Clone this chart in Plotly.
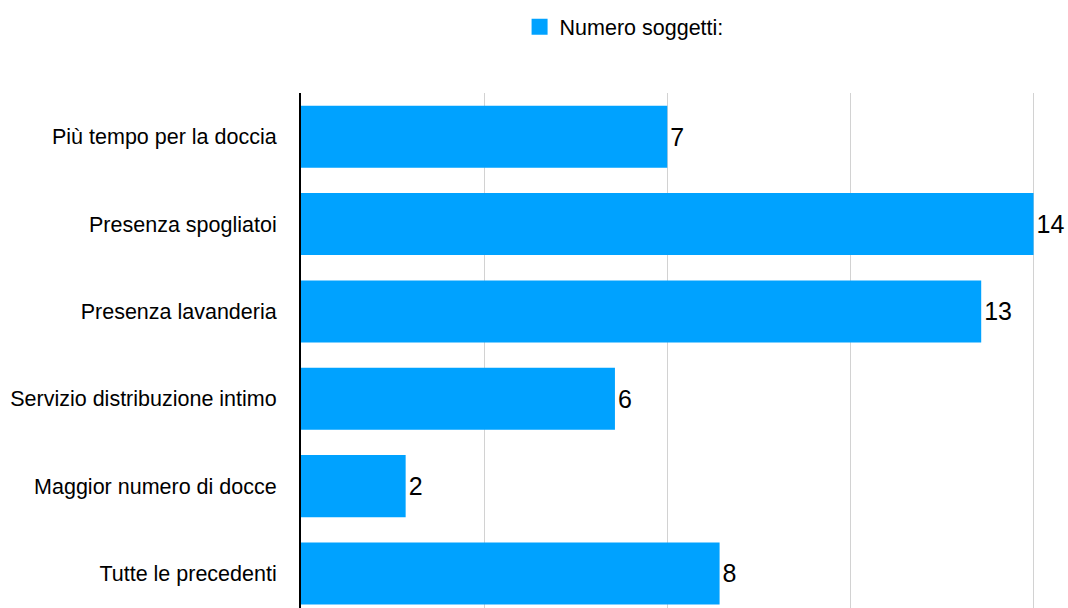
import plotly.graph_objects as go

categories = [
    "Più tempo per la doccia",
    "Presenza spogliatoi",
    "Presenza lavanderia",
    "Servizio distribuzione intimo",
    "Maggior numero di docce",
    "Tutte le precedenti",
]
values = [7, 14, 13, 6, 2, 8]
series_name = "Numero soggetti:"

BAR_COLOR = "#00A2FF"
FONT = "Liberation Sans, Arial, Helvetica, sans-serif"

fig = go.Figure()

fig.add_trace(go.Bar(
    x=values,
    y=categories,
    orientation="h",
    marker=dict(color=BAR_COLOR, line=dict(width=0)),
    text=[str(v) for v in values],
    textposition="outside",
    textfont=dict(size=25, color="#000000", family=FONT),
    cliponaxis=False,
    showlegend=False,
    hoverinfo="skip",
))

# legend entry with a larger square swatch
fig.add_trace(go.Scatter(
    x=[None], y=[None],
    mode="markers",
    marker=dict(symbol="square", size=16, color=BAR_COLOR),
    name=series_name,
    showlegend=True,
))

fig.update_layout(
    width=1068,
    height=608,
    margin=dict(l=301, r=24, t=93, b=0, pad=0),
    paper_bgcolor="white",
    plot_bgcolor="white",
    font=dict(family=FONT, size=21.5, color="#000000"),
    bargap=0.29,
    legend=dict(
        orientation="h",
        xref="container", yref="container",
        x=0.4865, y=0.956,
        xanchor="left", yanchor="middle",
        font=dict(size=21.5, family=FONT, color="#000000"),
        bgcolor="rgba(0,0,0,0)",
    ),
    xaxis=dict(
        range=[0, 14.2],
        dtick=3.5,
        tick0=0,
        showgrid=True,
        gridcolor="#d2d2d2",
        gridwidth=1,
        zeroline=False,
        showticklabels=False,
        showline=False,
        fixedrange=True,
    ),
    yaxis=dict(
        categoryorder="array",
        categoryarray=categories,
        range=[5.395, -0.5],
        showline=True,
        linecolor="#000000",
        linewidth=2,
        showgrid=False,
        zeroline=False,
        ticks="",
        ticklabelstandoff=18,
        tickfont=dict(size=21.5, family=FONT, color="#000000"),
        fixedrange=True,
    ),
)

fig.write_html("out.html")
